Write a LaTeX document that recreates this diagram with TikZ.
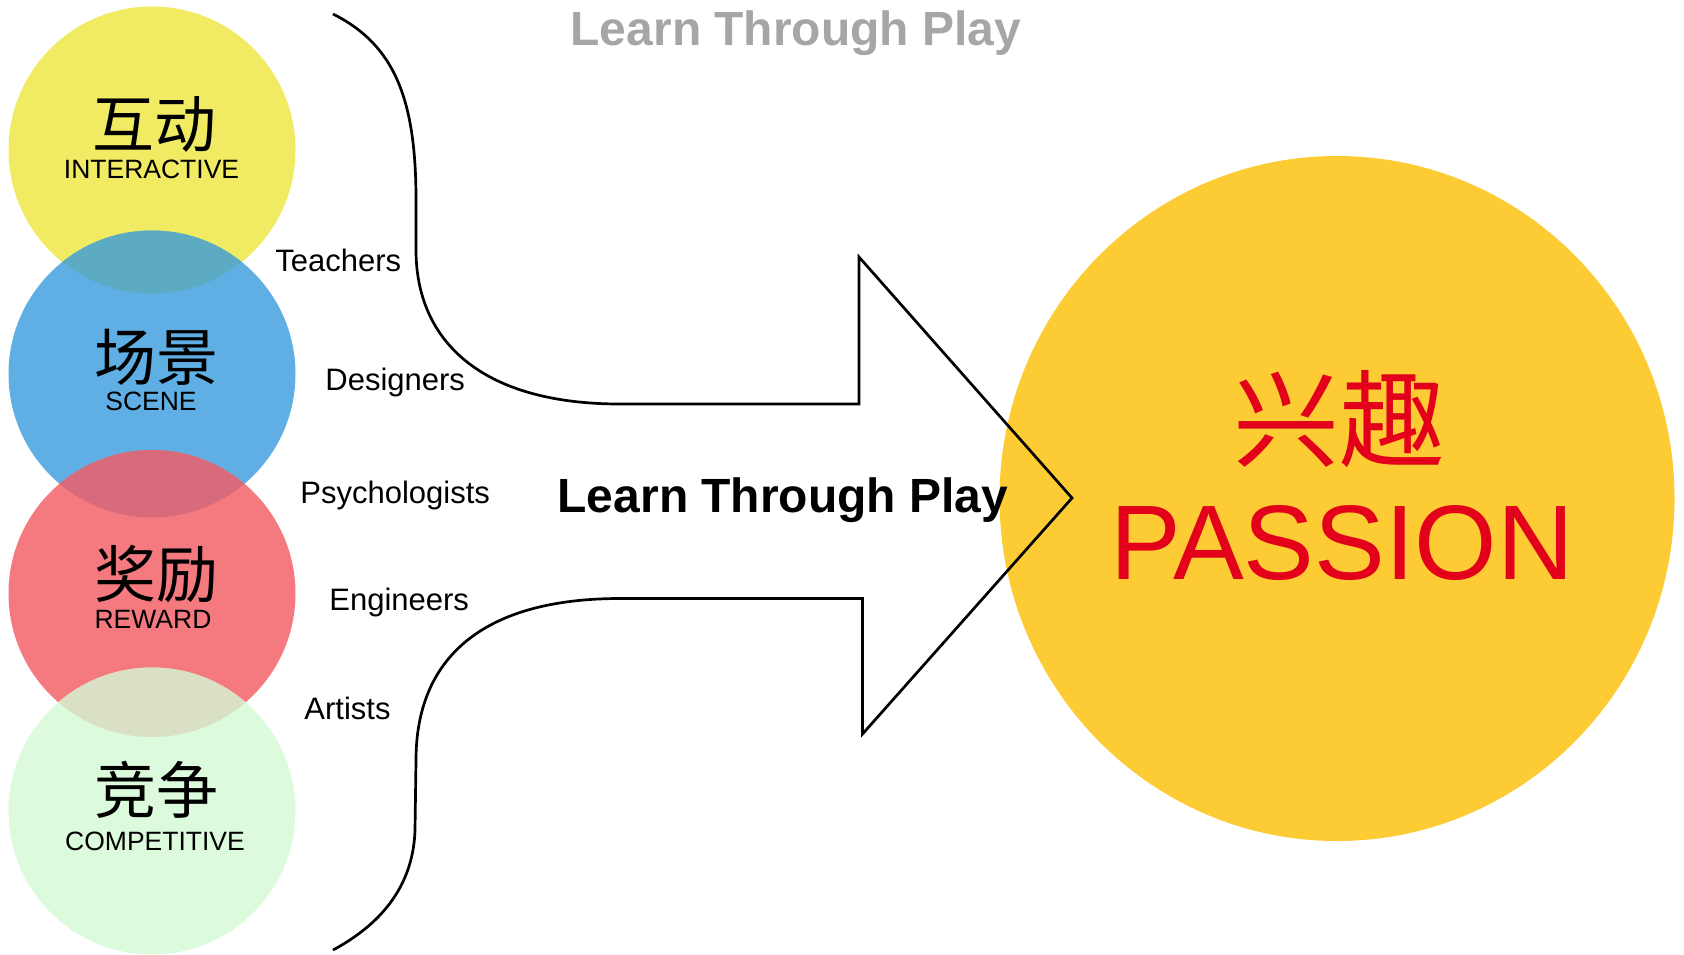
\documentclass[tikz,border=0pt]{standalone}
\usepackage{fontspec}
\setmainfont{Liberation Sans}
\newfontfamily\cjk{Noto Sans CJK SC}
\definecolor{cYel}{HTML}{F0EB62}
\definecolor{cBlue}{HTML}{5FAFE5}
\definecolor{cRed}{HTML}{F57A80}
\definecolor{cGreen}{HTML}{DCFADC}
\definecolor{ovYB}{HTML}{5DABC3}
\definecolor{ovBR}{HTML}{D76B7B}
\definecolor{ovRG}{HTML}{D9E0C4}
\definecolor{cSun}{HTML}{FDCB33}
\definecolor{cPass}{HTML}{E2001A}
\definecolor{cGray}{HTML}{A6A6A6}
\begin{document}
\begin{tikzpicture}[x=0.5pt,y=-0.5pt,
  lbl/.style={anchor=base west, inner sep=0, font=\fontsize{15.5}{18}\selectfont},
  en/.style={anchor=base, inner sep=0, font=\fontsize{13.25}{15}\selectfont},
  zh/.style={anchor=base, inner sep=0, font=\cjk\fontsize{31}{34}\selectfont},
  ttl/.style={anchor=base, inner sep=0, font=\bfseries\fontsize{24}{28}\selectfont},
  outline/.style={draw=black, line width=1.35pt, line join=miter}]
\useasboundingbox (0,0) rectangle (1684,954);
% big circle
\fill[cSun] (1337,498.5) ellipse [x radius=168.75pt, y radius=171.25pt];
% four circles
\fill[cYel] (152,150) circle (71.75pt);
\fill[cBlue] (152,374) circle (71.75pt);
\fill[cRed] (152,593.5) circle (71.75pt);
\fill[cGreen] (152,811) circle (71.75pt);
\begin{scope}
  \clip (152,150) circle (71.75pt);
  \fill[ovYB] (152,374) circle (71.75pt);
\end{scope}
\begin{scope}
  \clip (152,374) circle (71.75pt);
  \fill[ovBR] (152,593.5) circle (71.75pt);
\end{scope}
\begin{scope}
  \clip (152,593.5) circle (71.75pt);
  \fill[ovRG] (152,811) circle (71.75pt);
\end{scope}
% arrow outline
\draw[outline] (333,14) .. controls (395,45) and (416,100) .. (416,200)
  -- (416,250) .. controls (416,340) and (480,404) .. (620,404)
  -- (859,404) -- (859,257) -- (1072,498) -- (862.5,734) -- (862.5,598.5)
  -- (620,598.5) .. controls (480,598.5) and (416,660) .. (416,760)
  -- (415,830) .. controls (413,895) and (370,930) .. (333,950);
% circle texts
\node[zh] (z1) at (154,147) {互动};
\node[en] (e1) at (151.5,178) {INTERACTIVE};
\node[zh] (z2) at (156,380) {场景};
\node[en] (e2) at (151,410) {SCENE};
\node[zh] (z3) at (156,597) {奖励};
\node[en] (e3) at (153,628) {REWARD};
\node[zh] (z4) at (156.5,813) {竞争};
\node[en] (e4) at (155,850) {COMPETITIVE};
% labels
\node[lbl] (l1) at (275,271) {Teachers};
\node[lbl] (l2) at (325,390) {Designers};
\node[lbl] (l3) at (300,503) {Psychologists};
\node[lbl] (l4) at (329,610.5) {Engineers};
\node[lbl] (l5) at (304,719) {Artists};
% titles
\node[ttl, text=cGray] (t1) at (796,45) {Learn Through Play};
\node[ttl] (t2) at (783,512) {Learn Through Play};
% passion
\node[anchor=base, inner sep=0, text=cPass, font=\cjk\fontsize{53}{57}\selectfont] (p1) at (1339,459) {兴趣};
\node[anchor=base, inner sep=0, text=cPass, font=\fontsize{53}{58}\selectfont] (p2) at (1342,579) {PASSION};
\end{tikzpicture}
\end{document}
